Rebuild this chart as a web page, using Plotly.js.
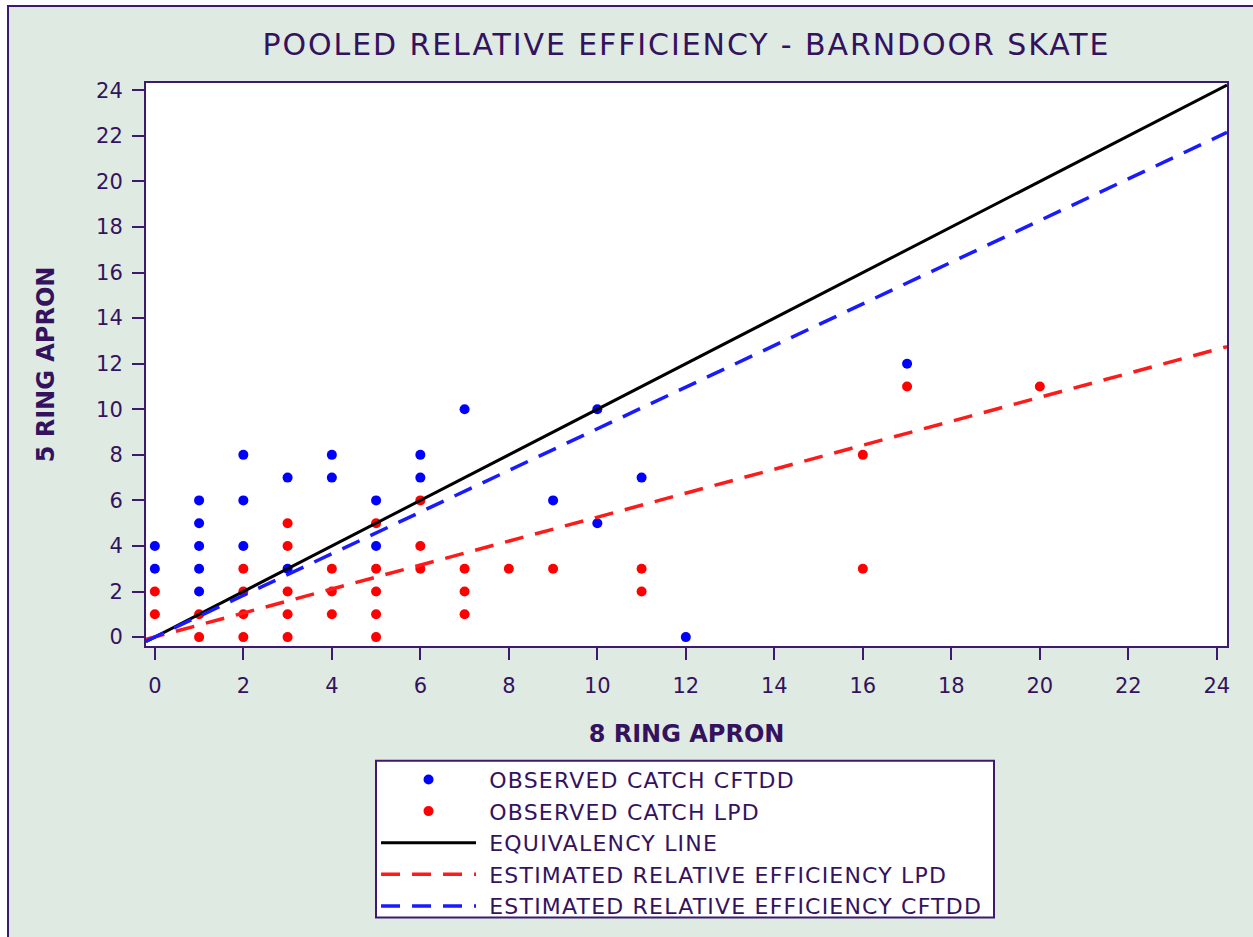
<!DOCTYPE html>
<html>
<head>
<meta charset="utf-8">
<script src="https://cdn.plot.ly/plotly-3.0.1.min.js"></script>
<style>
  html, body { margin: 0; padding: 0; background: #ffffff; overflow: hidden; }
  #wrap { position: absolute; left: 7px; top: 5px; border-left: 2px solid #3d1a6e; border-top: 2px solid #3d1a6e; }
  #plot { width: 1244px; height: 930px; }
  #plot .legendtext { letter-spacing: 1.2px; }
  #plot g.legend g.scrollbox { clip-path: none !important; }
  #plot .gtitle { letter-spacing: 1.9px; }
</style>
</head>
<body>
<div id="wrap"><div id="plot"></div></div>
<script>
// Observed catch CFTDD (blue)
const cftddX = [0,0, 1,1,1,1,1, 2,2,2, 3,3, 4,4, 5,5, 6,6, 7, 9, 10,10, 11, 12, 17];
const cftddY = [4,3, 6,5,4,3,2, 8,6,4, 7,3, 8,7, 6,4, 8,7, 10, 6, 10,5, 7, 0, 12];
// Observed catch LPD (red)
const lpdX = [0,0, 1,1, 2,2,2,2, 3,3,3,3,3, 4,4,4, 5,5,5,5,5, 6,6,6, 7,7,7, 8, 9, 11,11, 16,16, 17, 20];
const lpdY = [2,1, 1,0, 3,2,1,0, 5,4,2,1,0, 3,2,1, 5,3,2,1,0, 6,4,3, 3,2,1, 3, 3, 3,2, 8,3, 11, 11];
// Fitted / reference lines (endpoints)
const lineX = [-0.2, 24.23];
const equivY = [-0.2, 24.23];
const estLpdY = [-0.1, 12.75];
const estCftddY = [-0.18, 22.15];

const xTicks = [0,2,4,6,8,10,12,14,16,18,20,22,24];
const yTicks = [0,2,4,6,8,10,12,14,16,18,20,22,24];

const seriesNames = ['OBSERVED CATCH CFTDD', 'OBSERVED CATCH LPD', 'EQUIVALENCY LINE',
  'ESTIMATED RELATIVE EFFICIENCY LPD', 'ESTIMATED RELATIVE EFFICIENCY CFTDD'];
const pad = '\u00A0';

const ink = '#34125e';
const frame = '#3d1a6e';
const font = 'DejaVu Sans, Verdana, sans-serif';

const traces = [
  { x: cftddX, y: cftddY, mode: 'markers', type: 'scatter', name: pad + seriesNames[0],
    marker: { color: '#0000ff', size: 10 } },
  { x: lpdX, y: lpdY, mode: 'markers', type: 'scatter', name: pad + seriesNames[1],
    marker: { color: '#ff0000', size: 10 } },
  { x: lineX, y: equivY, mode: 'lines', type: 'scatter', name: pad + seriesNames[2],
    line: { color: '#000000', width: 3 } },
  { x: lineX, y: estLpdY, mode: 'lines', type: 'scatter', name: pad + seriesNames[3],
    line: { color: '#ff1a1a', width: 3.5, dash: '19px,12px' } },
  { x: lineX, y: estCftddY, mode: 'lines', type: 'scatter', name: pad + seriesNames[4],
    line: { color: '#1a1aff', width: 3.5, dash: '19px,12px' } }
];

const axisCommon = {
  showgrid: false, zeroline: false, showline: true, mirror: true,
  linecolor: frame, linewidth: 2,
  ticks: 'outside', ticklen: 12, tickwidth: 2, tickcolor: frame,
  tickfont: { family: font, size: 21, color: ink },
  tickmode: 'array'
};

const plotH = 564;
const plotBottom = 647;
const layout = {
  width: 1244, height: 930,
  paper_bgcolor: '#dfebe2', plot_bgcolor: '#ffffff',
  margin: { l: 137, r: 26, t: 76, b: 290 },
  font: { family: font, color: ink },
  title: { text: 'POOLED RELATIVE EFFICIENCY - BARNDOOR SKATE', font: { family: font, size: 30, color: ink },
    x: 0.5, xref: 'paper', xanchor: 'center', y: 0.96, yref: 'container', yanchor: 'middle' },
  xaxis: Object.assign({}, axisCommon, {
    range: [-0.2, 24.23], tickvals: xTicks, ticktext: xTicks.map(String), ticklabelstandoff: 8,
    title: { text: '<b>8 RING APRON</b>', font: { family: font, size: 24, color: ink }, standoff: 28 }
  }),
  yaxis: Object.assign({}, axisCommon, {
    range: [-0.39, 24.32], tickvals: yTicks, ticktext: yTicks.map(String), ticklabelstandoff: 5,
    title: { text: '<b>5 RING APRON</b>', font: { family: font, size: 24, color: ink }, standoff: 35 }
  }),
  shapes: [{
    type: 'rect', xref: 'paper', yref: 'paper', layer: 'above',
    x0: (376 - 146) / 1081, x1: (994 - 146) / 1081,
    y0: -(919 - plotBottom) / plotH, y1: -(762 - plotBottom) / plotH,
    fillcolor: '#ffffff', line: { color: frame, width: 2 }
  }],
  showlegend: true,
  legend: {
    x: 0.2128, xanchor: 'left', y: -(758.7 - plotBottom) / plotH, yanchor: 'top',
    bgcolor: 'rgba(0,0,0,0)', borderwidth: 0,
    font: { family: font, size: 22, color: ink },
    itemwidth: 95, tracegroupgap: 0
  }
};

Plotly.newPlot('plot', traces, layout, { displayModeBar: false, staticPlot: true });
</script>
</body>
</html>
